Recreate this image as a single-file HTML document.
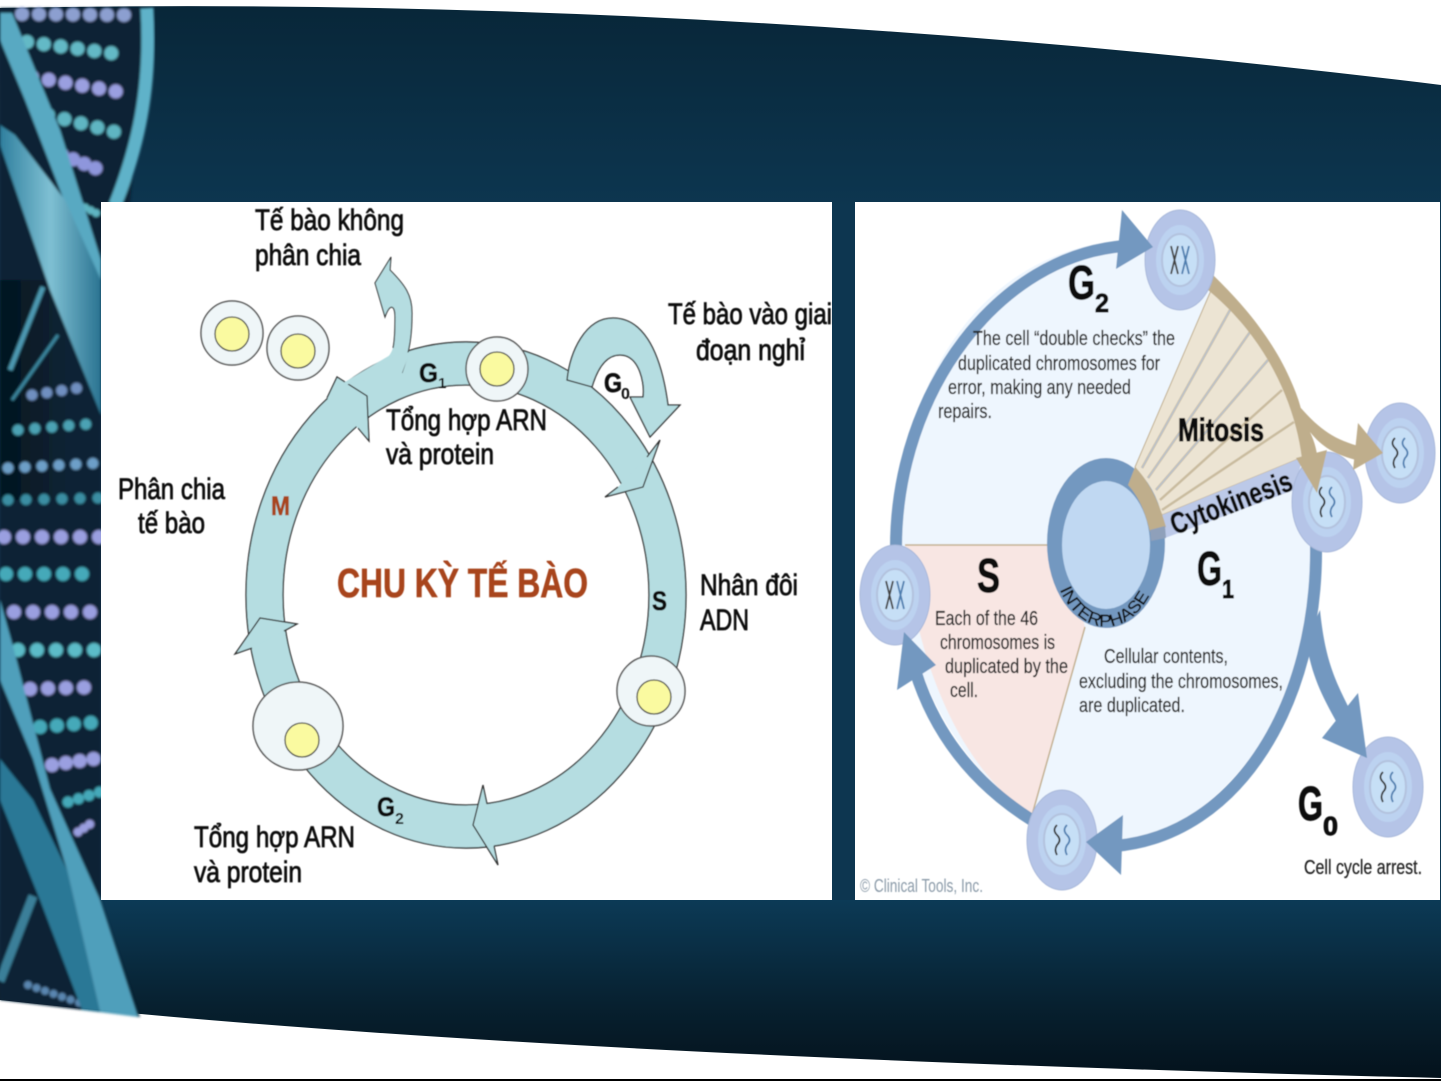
<!DOCTYPE html>
<html><head><meta charset="utf-8">
<style>
html,body{margin:0;padding:0;background:#fff;width:1441px;height:1081px;overflow:hidden}
svg{display:block}
text{font-family:"Liberation Sans",sans-serif}
.l{font-size:30px;fill:#111;stroke:#111;stroke-width:.8px}
.r{font-size:20px;fill:#222;stroke:#222;stroke-width:.25px}
.b{font-weight:bold;fill:#111;stroke:#111;stroke-width:.9px}
.ring{fill:#b5dde1;stroke:#333;stroke-width:1.3}
.c{fill:#eff6f8;stroke:#555;stroke-width:1.5}
.y{fill:#fafaa0;stroke:#444;stroke-width:1.3}
</style></head><body>
<svg width="1441" height="1081" viewBox="0 0 1441 1081" xmlns="http://www.w3.org/2000/svg">
<defs>
<linearGradient id="bt" gradientUnits="userSpaceOnUse" x1="0" y1="0" x2="0" y2="210"><stop offset="0" stop-color="#082638"/><stop offset="1" stop-color="#0d3650"/></linearGradient>
<linearGradient id="bb" gradientUnits="userSpaceOnUse" x1="0" y1="900" x2="0" y2="1078"><stop offset="0" stop-color="#0c3a56"/><stop offset=".6" stop-color="#07202f"/><stop offset="1" stop-color="#04121c"/></linearGradient>
<linearGradient id="rb" x1="0" y1="0" x2="1" y2="0"><stop offset="0" stop-color="#2f7f9e"/><stop offset=".5" stop-color="#7fc0d3"/><stop offset="1" stop-color="#2a7391"/></linearGradient>
<linearGradient id="dk" x1="0" y1="0" x2="1" y2="0"><stop offset="0" stop-color="#05151f"/><stop offset="1" stop-color="#05151f" stop-opacity="0"/></linearGradient>
<filter id="b1" x="-5%" y="-5%" width="110%" height="110%"><feGaussianBlur stdDeviation="1.2"/></filter>
<filter id="b0" x="-5%" y="-5%" width="110%" height="110%"><feGaussianBlur stdDeviation=".45"/></filter>
<g id="xx" fill="none" stroke-width="1.8"><path d="M-9,-14 L-2,14 M-2,-14 L-9,14" stroke="#444"/><path d="M2,-14 L9,14 M9,-14 L2,14" stroke="#4f7fb0"/></g>
<g id="ww" fill="none" stroke-width="1.8"><path d="M-5,-15 q-5,5 0,10 q5,5 0,10 q-3,5 0,10" stroke="#333"/><path d="M5,-15 q-5,5 0,10 q5,5 0,10 q-3,5 0,10" stroke="#4f7fb0"/></g>
<g id="cl"><ellipse rx="35" ry="50" fill="#b5c4e7" stroke="#a8b8da"/><ellipse rx="24" ry="35" fill="#bcd2f0"/><ellipse rx="18" ry="26" fill="#c6dff6" stroke="#b3c2de" stroke-width="2"/></g>
</defs>

<!-- background -->
<rect width="1441" height="1081" fill="#fff"/>
<path d="M0,8 Q700,-6 1441,85 L1441,910 L0,910Z" fill="url(#bt)"/>
<path d="M0,900 L1441,900 L1441,1078 Q500,1055 0,1000Z" fill="url(#bb)"/>

<!-- DNA -->
<g filter="url(#b1)">
<path d="M0,8 L148,8 L130,205 L101,240 L101,900 L140,1017 L0,1000Z" fill="#0a2435"/>
<rect x="0" y="280" width="70" height="220" fill="url(#dk)"/>
<path d="M43,287 L10,370" stroke="#4d9ab2" stroke-width="5" fill="none"/>
<path d="M58,335 L12,400" stroke="#3e8aa3" stroke-width="3" fill="none"/>
<g fill="none" stroke-linecap="round" stroke-width="14">
<line x1="22" y1="14" x2="130" y2="15" stroke="#8c9fd0" stroke-dasharray="0 17"/>
<line x1="27" y1="42" x2="125" y2="55" stroke="#63b9c6" stroke-dasharray="0 17"/>
<line x1="32" y1="77" x2="125" y2="93" stroke="#9a9fe0" stroke-dasharray="0 17"/>
<line x1="48" y1="115" x2="115" y2="132" stroke="#5fb5c2" stroke-dasharray="0 17"/>
<line x1="62" y1="155" x2="105" y2="172" stroke="#8e96dc" stroke-dasharray="0 12"/>
<line x1="80" y1="205" x2="100" y2="215" stroke="#5fb5c2" stroke-dasharray="0 6" stroke-width="8"/>
<line x1="32" y1="395" x2="85" y2="387" stroke="#6f8fc0" stroke-dasharray="0 15" stroke-width="11"/>
<line x1="18" y1="430" x2="100" y2="423" stroke="#4ba2b4" stroke-dasharray="0 17" stroke-width="11"/>
<line x1="8" y1="468" x2="100" y2="463" stroke="#6d9fc8" stroke-dasharray="0 17" stroke-width="11"/>
<line x1="8" y1="500" x2="100" y2="498" stroke="#3b8ea3" stroke-dasharray="0 18" stroke-width="11"/>
<line x1="4" y1="537" x2="100" y2="537" stroke="#9a9fe0" stroke-dasharray="0 19"/>
<line x1="6" y1="574" x2="100" y2="574" stroke="#44a9b9" stroke-dasharray="0 19"/>
<line x1="14" y1="612" x2="100" y2="612" stroke="#9a9fe0" stroke-dasharray="0 19"/>
<line x1="18" y1="650" x2="100" y2="650" stroke="#5cbcc8" stroke-dasharray="0 19"/>
<line x1="30" y1="689" x2="100" y2="687" stroke="#9a9fe0" stroke-dasharray="0 18"/>
<line x1="40" y1="727" x2="100" y2="722" stroke="#44a9b9" stroke-dasharray="0 17"/>
<line x1="52" y1="765" x2="100" y2="758" stroke="#9a9fe0" stroke-dasharray="0 14"/>
<line x1="68" y1="802" x2="100" y2="792" stroke="#44a9b9" stroke-dasharray="0 11" stroke-width="11"/>
<line x1="78" y1="832" x2="90" y2="824" stroke="#9a9fe0" stroke-dasharray="0 7" stroke-width="9"/>
<line x1="28" y1="985" x2="80" y2="1003" stroke="#5a86b0" stroke-dasharray="0 9" stroke-width="8"/>
</g>
<path d="M147,8 C152,90 137,150 115,205" fill="none" stroke="#5fb2c9" stroke-width="13"/>
<path d="M101,300 L65,260 L75,240 L101,260Z" fill="#3b8aa5"/>
<!-- upper ribbons -->
<path d="M0,13 L12,13 L60,130 L101,260 L101,300 L60,190 L25,100 L0,40Z" fill="#58a9c2"/>
<path d="M0,125 L15,135 L65,200 L101,280 L101,415 L50,290 L0,145Z" fill="url(#rb)"/>
<!-- lower ribbons -->
<path d="M33,896 L0,981" stroke="#3a7f99" stroke-width="9" fill="none"/>
<path d="M0,600 L14,650 L50,789 L100,900 L138,1017 L100,1012 L67,870 L33,759 L0,680Z" fill="#4f9fbb"/>
<path d="M0,759 L33,800 L67,870 L100,1012 L82,1010 L40,900 L0,800Z" fill="#2c7896"/>
</g>

<!-- panels -->
<rect x="101" y="202" width="731" height="698" fill="#fff"/>
<rect x="855" y="202" width="585" height="698" fill="#fff"/>
<rect x="0" y="1079" width="1441" height="2" fill="#000"/>

<!-- LEFT CYCLE -->
<g filter="url(#b0)">
<path fill-rule="evenodd" class="ring" d="M246,595a220,253 0 1,0 440,0a220,253 0 1,0 -440,0Z M283,595a183,210 0 1,0 366,0a183,210 0 1,0 -366,0Z"/>
<path class="ring" d="M327,398L337,377L367,396L369,441L358,428"/>
<path class="ring" d="M618,487L605,497L643,487L660,440L647,457"/>
<path class="ring" d="M252,648L235,654L260,618L297,624L284,631"/>
<path class="ring" d="M487,804L483,785L473,825L498,865L494,846"/>
<path d="M347,383L387,358C395,350 395,340 395,317C395,305 390,303 385,317L375,283L391,257L390,270C405,285 412,295 412,313C412,335 410,350 402,373" fill="#b5dde1"/>
<path d="M393,348C395,340 395,325 395,317C395,305 390,303 385,317L375,283L391,257L390,270C405,285 412,295 412,313C412,335 410,350 402,373" fill="none" stroke="#333" stroke-width="1.1"/>
<path d="M347,384L402,373L410,352L392,356Z" fill="#b5dde1"/>
<path d="M345,384L392,356" fill="none" stroke="#b5dde1" stroke-width="3.5"/>
<path class="ring" d="M567,380C570,352 585,318 613,318C640,318 660,345 668,405L680,405L650,437L630,397L643,397C645,385 640,355 620,355C605,355 597,370 592,387Z"/>
<ellipse class="c" cx="232" cy="333" rx="31" ry="32"/><circle class="y" cx="232" cy="334" r="17"/>
<ellipse class="c" cx="298" cy="348" rx="31" ry="32"/><circle class="y" cx="298" cy="351" r="17"/>
<ellipse class="c" cx="497" cy="369" rx="31" ry="32"/><circle class="y" cx="497" cy="369" r="17"/>
<ellipse class="c" cx="651" cy="691" rx="34" ry="35"/><circle class="y" cx="654" cy="697" r="17"/>
<ellipse class="c" cx="298" cy="726" rx="45" ry="44"/><circle class="y" cx="302" cy="740" r="17"/>

<text class="l" x="255" y="230" textLength="149" lengthAdjust="spacingAndGlyphs">Tế bào không</text>
<text class="l" x="255" y="265" textLength="106" lengthAdjust="spacingAndGlyphs">phân chia</text>
<text class="l" x="668" y="324" textLength="164" lengthAdjust="spacingAndGlyphs">Tế bào vào giai</text>
<text class="l" x="696" y="360" textLength="109" lengthAdjust="spacingAndGlyphs">đoạn nghỉ</text>
<text class="l" x="386" y="430" textLength="161" lengthAdjust="spacingAndGlyphs">Tổng hợp ARN</text>
<text class="l" x="386" y="464" textLength="108" lengthAdjust="spacingAndGlyphs">và protein</text>
<text class="l" x="118" y="499" textLength="107" lengthAdjust="spacingAndGlyphs">Phân chia</text>
<text class="l" x="138" y="533" textLength="67" lengthAdjust="spacingAndGlyphs">tế bào</text>
<text class="l" x="700" y="595" textLength="98" lengthAdjust="spacingAndGlyphs">Nhân đôi</text>
<text class="l" x="700" y="630" textLength="49" lengthAdjust="spacingAndGlyphs">ADN</text>
<text class="l" x="194" y="847" textLength="161" lengthAdjust="spacingAndGlyphs">Tổng hợp ARN</text>
<text class="l" x="194" y="882" textLength="108" lengthAdjust="spacingAndGlyphs">và protein</text>
<text x="337" y="597" font-size="41" font-weight="bold" fill="#a8441c" stroke="#a8441c" stroke-width=".6" textLength="251" lengthAdjust="spacingAndGlyphs">CHU KỲ TẾ BÀO</text>
<text x="271" y="515" font-size="27" font-weight="bold" fill="#a8441c" stroke="#a8441c" stroke-width=".6" textLength="19" lengthAdjust="spacingAndGlyphs">M</text>
<text x="652" y="610" font-size="27" font-weight="bold" fill="#111" stroke="#111" stroke-width=".6" textLength="15" lengthAdjust="spacingAndGlyphs">S</text>
<text x="419" y="382" font-size="27" font-weight="bold" fill="#111" stroke="#111" stroke-width=".6" textLength="19" lengthAdjust="spacingAndGlyphs">G</text><text x="438" y="388" font-size="15" font-weight="bold" fill="#111">1</text>
<text x="604" y="392" font-size="27" font-weight="bold" fill="#111" stroke="#111" stroke-width=".6" textLength="18" lengthAdjust="spacingAndGlyphs">G</text><text x="621" y="399" font-size="16" font-weight="bold" fill="#111">0</text>
<text x="377" y="816" font-size="27" font-weight="bold" fill="#111" stroke="#111" stroke-width=".6" textLength="18" lengthAdjust="spacingAndGlyphs">G</text><text x="395" y="824" font-size="16" font-weight="bold" fill="#111">2</text>
</g>

<!-- RIGHT CYCLE -->
<g filter="url(#b0)">
<path d="M897,545C897,360 1000,240 1140,240C1250,270 1320,400 1318,560C1316,720 1200,850 1090,850L1032,815C950,760 900,660 897,545Z" fill="#eef6fe"/>
<path d="M905,545L1060,545L1085,627L1032,815C960,770 915,660 905,545Z" fill="#f8e6e3"/>
<path d="M905,545L1050,545M1085,627L1032,815" stroke="#c3b08f" stroke-width="1.5" fill="none"/>
<!-- arcs -->
<path d="M896,548C896,390 1000,255 1125,246" fill="none" stroke="#7398c0" stroke-width="12"/>
<path d="M1316,545C1318,700 1240,835 1115,846" fill="none" stroke="#7398c0" stroke-width="12"/>
<path d="M1035,822C975,785 935,735 915,670" fill="none" stroke="#7398c0" stroke-width="12"/>
<path d="M1306,640C1312,680 1325,700 1338,725L1350,710C1335,680 1325,660 1320,610Z" fill="#7398c0"/>
<!-- mitosis -->
<path d="M1135,467L1212,288C1260,325 1290,370 1300,407L1303,457L1162,515Z" fill="#ece4d3" stroke="#c0ae8c"/>
<g fill="none" stroke="#c9bb9f" stroke-width="2.5"><path d="M1142,468L1230,310"/><path d="M1148,478L1250,332"/><path d="M1156,490L1268,360"/><path d="M1160,500L1282,390"/><path d="M1162,510L1294,422"/></g>
<g fill="none" stroke="#b3c4dc" stroke-width="1"><path d="M1142,468L1230,310"/><path d="M1148,478L1250,332"/><path d="M1156,490L1268,360"/></g>
<path d="M1213,275C1265,325 1290,370 1300,407C1320,430 1335,440 1362,447L1360,461C1335,455 1322,447 1310,432C1316,445 1318,455 1318,470L1303,470C1300,420 1275,345 1208,290Z" fill="#bfae8c"/>
<path d="M1162,515L1303,457L1294,490L1165,538Z" fill="#bcc9e8"/>
<!-- center -->
<ellipse cx="1106" cy="543" rx="59" ry="85" fill="#7398c0"/>
<ellipse cx="1106" cy="545" rx="44" ry="64" fill="#c0d8f2"/>
<path d="M1128,485L1135,467C1150,482 1160,505 1166,527L1150,532C1146,515 1140,498 1128,485Z" fill="#bfae8c"/>
<path d="M1150,530L1165,526L1166,538L1151,541Z" fill="#8fa0ba"/>
<!-- cells -->
<g transform="translate(1180,260)"><use href="#cl"/><use href="#xx"/></g>
<g transform="translate(1327,502)"><use href="#cl"/><use href="#ww"/></g>
<g transform="translate(1400,453)"><use href="#cl"/><use href="#ww"/></g>
<g transform="translate(895,595)"><use href="#cl"/><use href="#xx"/></g>
<g transform="translate(1062,840)"><use href="#cl"/><use href="#ww"/></g>
<g transform="translate(1388,787)"><use href="#cl"/><use href="#ww"/></g>
<path d="M1317,493L1327,450L1296,458Z" fill="#bfae8c"/>
<path d="M1383,453L1358,423L1353,470Z" fill="#bfae8c"/>
<path d="M1367,758L1358,693L1322,738Z" fill="#7398c0"/>
<path d="M1122,210L1153,247L1116,269Z" fill="#7398c0"/>
<path d="M1086,842L1123,815L1121,875Z" fill="#7398c0"/>
<path d="M904,632L936,665L897,690Z" fill="#7398c0"/>

<text class="b" x="1068" y="299" font-size="48" textLength="27" lengthAdjust="spacingAndGlyphs">G</text>
<text class="b" x="1095" y="312" font-size="26" textLength="14" lengthAdjust="spacingAndGlyphs">2</text>
<text class="r" x="973" y="345" textLength="202" lengthAdjust="spacingAndGlyphs">The cell “double checks” the</text>
<text class="r" x="958" y="370" textLength="202" lengthAdjust="spacingAndGlyphs">duplicated chromosomes for</text>
<text class="r" x="948" y="394" textLength="183" lengthAdjust="spacingAndGlyphs">error, making any needed</text>
<text class="r" x="938" y="418" textLength="54" lengthAdjust="spacingAndGlyphs">repairs.</text>
<text class="b" x="1178" y="441" font-size="32" textLength="86" lengthAdjust="spacingAndGlyphs">Mitosis</text>
<text class="b" x="0" y="0" font-size="30" textLength="128" lengthAdjust="spacingAndGlyphs" transform="translate(1175,535) rotate(-21)" style="stroke-width:.5px">Cytokinesis</text>
<text class="b" x="977" y="592" font-size="48" textLength="23" lengthAdjust="spacingAndGlyphs">S</text>
<text class="b" x="1197" y="585" font-size="48" textLength="25" lengthAdjust="spacingAndGlyphs">G</text>
<text class="b" x="1222" y="598" font-size="26" textLength="12" lengthAdjust="spacingAndGlyphs">1</text>
<text class="r" x="935" y="625" textLength="103" lengthAdjust="spacingAndGlyphs">Each of the 46</text>
<text class="r" x="940" y="649" textLength="115" lengthAdjust="spacingAndGlyphs">chromosomes is</text>
<text class="r" x="945" y="673" textLength="123" lengthAdjust="spacingAndGlyphs">duplicated by the</text>
<text class="r" x="950" y="697" textLength="28" lengthAdjust="spacingAndGlyphs">cell.</text>
<text class="r" x="1104" y="663" textLength="124" lengthAdjust="spacingAndGlyphs">Cellular contents,</text>
<text class="r" x="1079" y="688" textLength="204" lengthAdjust="spacingAndGlyphs">excluding the chromosomes,</text>
<text class="r" x="1079" y="712" textLength="106" lengthAdjust="spacingAndGlyphs">are duplicated.</text>
<text class="b" x="1298" y="820" font-size="48" textLength="25" lengthAdjust="spacingAndGlyphs">G</text>
<text class="b" x="1323" y="835" font-size="26" textLength="15" lengthAdjust="spacingAndGlyphs">0</text>
<text class="r" x="1304" y="874" textLength="118" lengthAdjust="spacingAndGlyphs">Cell cycle arrest.</text>
<text x="860" y="892" font-size="18" fill="#8a9aa8" textLength="123" lengthAdjust="spacingAndGlyphs">© Clinical Tools, Inc.</text>
<path id="ip" d="M1059,588A55,80 0 0 0 1153,588" fill="none"/>
<text font-size="17" fill="#111" stroke="#111" stroke-width=".3"><textPath href="#ip" startOffset="2" textLength="118" lengthAdjust="spacingAndGlyphs">INTERPHASE</textPath></text>
</g>
</svg>
</body></html>
